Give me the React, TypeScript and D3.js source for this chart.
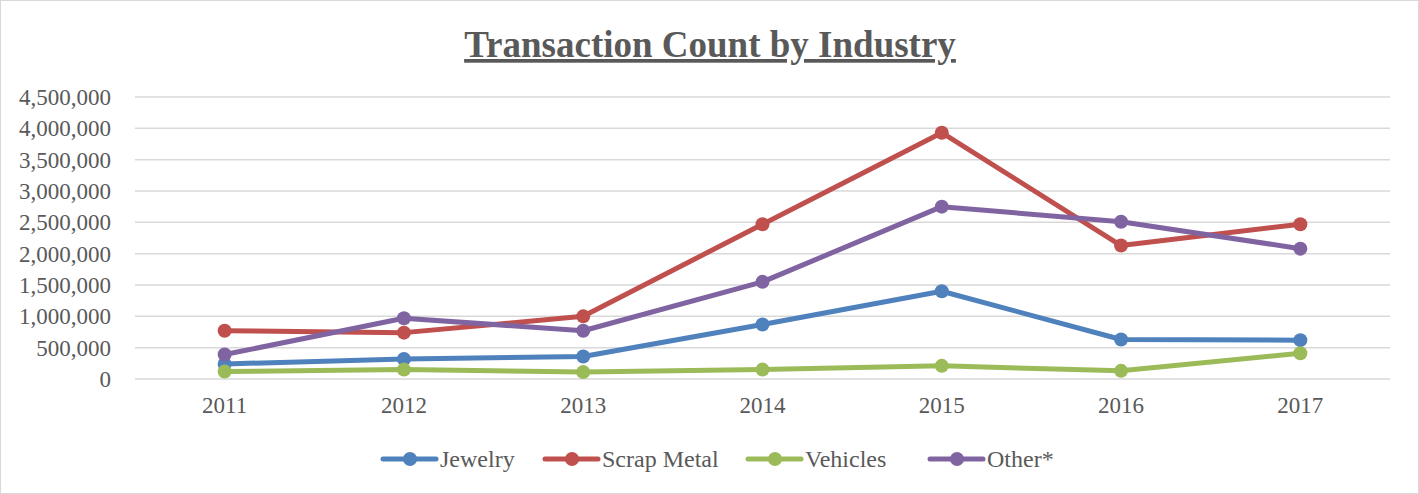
import React, { useEffect, useRef } from 'react'
import * as d3 from 'd3'

const years = ['2011', '2012', '2013', '2014', '2015', '2016', '2017']
const jewelry = [240000, 320000, 360000, 870000, 1400000, 630000, 620000]
const scrapMetal = [770000, 740000, 1000000, 2470000, 3930000, 2130000, 2470000]
const vehicles = [120000, 150000, 110000, 150000, 210000, 130000, 410000]
const other = [390000, 970000, 770000, 1550000, 2750000, 2510000, 2080000]
const yTicks = [0, 500000, 1000000, 1500000, 2000000, 2500000, 3000000, 3500000, 4000000, 4500000]

const seriesNames = ['Jewelry', 'Scrap Metal', 'Vehicles', 'Other*']
const seriesColors = ['#4F81BD', '#C0504D', '#9BBB59', '#8064A2']
const legendX = [383, 545, 748, 930]

const W = 1419
const H = 494
const FONT = '"Liberation Serif", "Times New Roman", serif'

export default function App() {
  const ref = useRef<SVGSVGElement>(null)

  useEffect(() => {
    const svg = d3.select(ref.current)
    svg.selectAll('*').remove()

    const margin = { top: 97, right: 29, bottom: 115, left: 135 }
    const width = W - margin.left - margin.right
    const height = H - margin.top - margin.bottom
    const series = [jewelry, scrapMetal, vehicles, other]

    // chart frame
    svg.append('rect')
      .attr('x', 0.5).attr('y', 0.5)
      .attr('width', W - 1).attr('height', H - 1)
      .attr('fill', '#fff')
      .attr('stroke', '#d9d9d9')

    // title
    svg.append('text')
      .attr('x', 710)
      .attr('y', 57)
      .attr('text-anchor', 'middle')
      .attr('font-family', FONT)
      .attr('font-weight', 'bold')
      .attr('font-size', 37)
      .attr('fill', '#595959')
      .attr('text-decoration', 'underline')
      .text('Transaction Count by Industry')

    const g = svg.append('g').attr('transform', `translate(${margin.left},${margin.top})`)

    const x = d3.scaleBand().domain(years).range([0, width])
    const y = d3.scaleLinear().domain([0, 4500000]).range([height, 0])

    // gridlines
    g.selectAll('.grid')
      .data(yTicks)
      .enter()
      .append('line')
      .attr('x1', 0).attr('x2', width)
      .attr('y1', d => y(d)).attr('y2', d => y(d))
      .attr('stroke', '#d9d9d9')
      .attr('stroke-width', 1.5)

    const yAxis = g.append('g')
      .call(d3.axisLeft(y).tickValues(yTicks).tickFormat(d3.format(',')).tickSize(0).tickPadding(24))
    yAxis.select('.domain').remove()
    yAxis.selectAll('text')
      .attr('font-family', FONT)
      .attr('font-size', 23)
      .attr('fill', '#595959')

    const xAxis = g.append('g')
      .attr('transform', `translate(0,${height})`)
      .call(d3.axisBottom(x).tickSize(0).tickPadding(18))
    xAxis.select('.domain').remove()
    xAxis.selectAll('text')
      .attr('font-family', FONT)
      .attr('font-size', 23)
      .attr('fill', '#595959')

    const line = d3.line<number>()
      .x((d, i) => x(years[i])! + x.bandwidth() / 2)
      .y(d => y(d))

    series.forEach((vals, si) => {
      g.append('path')
        .datum(vals)
        .attr('d', line)
        .attr('fill', 'none')
        .attr('stroke', seriesColors[si])
        .attr('stroke-width', 5)
        .attr('stroke-linejoin', 'round')
        .attr('stroke-linecap', 'round')

      g.selectAll('.pt' + si)
        .data(vals)
        .enter()
        .append('circle')
        .attr('cx', (d, i) => x(years[i])! + x.bandwidth() / 2)
        .attr('cy', d => y(d))
        .attr('r', 7)
        .attr('fill', seriesColors[si])
    })

    // legend
    const legend = svg.append('g').attr('transform', 'translate(0,459)')
    seriesNames.forEach((name, i) => {
      const lx = legendX[i]
      legend.append('line')
        .attr('x1', lx).attr('x2', lx + 53)
        .attr('y1', 0).attr('y2', 0)
        .attr('stroke', seriesColors[i])
        .attr('stroke-width', 5)
        .attr('stroke-linecap', 'round')
      legend.append('circle')
        .attr('cx', lx + 27).attr('cy', 0)
        .attr('r', 7)
        .attr('fill', seriesColors[i])
      legend.append('text')
        .attr('x', lx + 57)
        .attr('y', 0)
        .attr('dy', '0.35em')
        .attr('font-family', FONT)
        .attr('font-size', 24)
        .attr('fill', '#595959')
        .text(name)
    })
  }, [])

  return (
    <svg ref={ref} width={W} height={H} style={{ position: 'absolute', left: 0, top: 0, display: 'block' }} />
  )
}
